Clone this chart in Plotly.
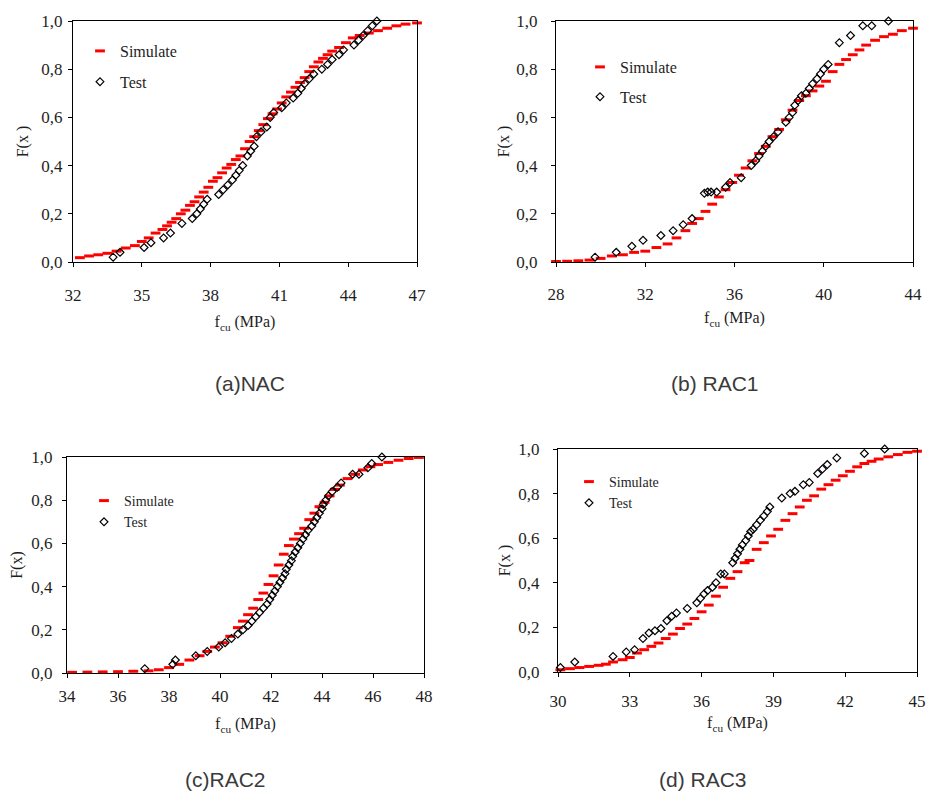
import plotly.graph_objects as go

# ---------------- data ----------------
# (a) NAC
sim_a_x = [32.3, 32.7, 33.1, 33.5, 33.9, 34.3, 34.7, 35.0, 35.3, 35.6, 35.9, 36.1, 36.3, 36.5, 36.7, 36.9,
           37.1, 37.3, 37.5, 37.7, 37.9, 38.1, 38.3, 38.5, 38.7, 38.9, 39.1, 39.3, 39.5, 39.7, 39.9, 40.1,
           40.3, 40.5, 40.7, 40.9, 41.1, 41.3, 41.5, 41.7, 41.9, 42.1, 42.3, 42.5, 42.7, 42.9, 43.1, 43.3,
           43.6, 43.9, 44.2, 44.5, 44.9, 45.3, 45.7, 46.1, 46.5, 47.0]
sim_a_y = [0.018, 0.025, 0.03, 0.036, 0.045, 0.058, 0.068, 0.085, 0.10, 0.12, 0.135, 0.15, 0.165, 0.18, 0.20, 0.215,
           0.235, 0.25, 0.27, 0.29, 0.31, 0.335, 0.35, 0.37, 0.39, 0.405, 0.425, 0.44, 0.47, 0.50, 0.52, 0.545,
           0.57, 0.595, 0.615, 0.635, 0.66, 0.685, 0.705, 0.725, 0.745, 0.765, 0.79, 0.81, 0.83, 0.845, 0.86, 0.875,
           0.89, 0.91, 0.93, 0.94, 0.95, 0.96, 0.97, 0.98, 0.987, 0.992]
test_a_x = [33.75, 34.05, 35.1, 35.4, 35.95, 36.25, 36.75, 37.2, 37.4, 37.55, 37.7, 37.85, 38.35, 38.55, 38.75,
            38.95, 39.1, 39.25, 39.4, 39.6, 39.75, 39.9, 40.0, 40.2, 40.45, 40.6, 40.75, 41.1, 41.3, 41.6, 41.8,
            41.95, 42.1, 42.3, 42.5, 42.85, 43.1, 43.3, 43.6, 43.8, 44.25, 44.45, 44.65, 44.85, 45.05, 45.25]
test_a_y = [0.02, 0.04, 0.06, 0.08, 0.10, 0.12, 0.16, 0.18, 0.20, 0.22, 0.24, 0.26, 0.28, 0.30, 0.32,
            0.34, 0.36, 0.38, 0.40, 0.44, 0.46, 0.48, 0.52, 0.54, 0.56, 0.60, 0.62, 0.64, 0.66, 0.68, 0.70,
            0.72, 0.74, 0.76, 0.78, 0.80, 0.82, 0.84, 0.86, 0.88, 0.90, 0.92, 0.94, 0.96, 0.98, 1.0]

# (b) RAC1
sim_b_x = [28.0, 28.5, 29.0, 29.5, 30.0, 30.5, 31.0, 31.5, 32.0, 32.5, 33.0, 33.4, 33.8, 34.1, 34.4, 34.7,
           35.0, 35.3, 35.6, 35.9, 36.2, 36.5, 36.8, 37.1, 37.4, 37.7, 38.0, 38.3, 38.6, 38.9, 39.2, 39.5,
           39.8, 40.1, 40.4, 40.7, 41.0, 41.3, 41.6, 41.9, 42.3, 42.7, 43.1, 43.5, 44.0]
sim_b_y = [0.002, 0.003, 0.005, 0.008, 0.015, 0.025, 0.03, 0.04, 0.045, 0.06, 0.075, 0.10, 0.13, 0.16, 0.18, 0.21,
           0.24, 0.27, 0.30, 0.33, 0.36, 0.39, 0.42, 0.45, 0.48, 0.52, 0.55, 0.59, 0.63, 0.67, 0.69, 0.71,
           0.73, 0.75, 0.79, 0.82, 0.84, 0.86, 0.88, 0.90, 0.92, 0.935, 0.945, 0.96, 0.97]
test_b_x = [29.75, 30.7, 31.4, 31.9, 32.7, 33.25, 33.7, 34.1, 34.65, 34.8, 34.95, 35.2, 35.6, 35.8, 36.3,
            36.75, 36.95, 37.1, 37.25, 37.4, 37.55, 37.75, 37.95, 38.3, 38.45, 38.6, 38.7, 38.85, 39.0, 39.2,
            39.35, 39.5, 39.7, 39.85, 40.0, 40.2, 40.7, 41.2, 41.75, 42.15, 42.9]
test_b_y = [0.02, 0.04, 0.065, 0.09, 0.11, 0.13, 0.155, 0.18, 0.285, 0.29, 0.29, 0.29, 0.31, 0.33, 0.35,
            0.40, 0.42, 0.44, 0.46, 0.48, 0.50, 0.52, 0.54, 0.58, 0.60, 0.62, 0.65, 0.67, 0.69, 0.70,
            0.72, 0.74, 0.76, 0.78, 0.80, 0.82, 0.91, 0.94, 0.98, 0.98, 1.0]

# (c) RAC2
sim_c_x = [34.2, 34.8, 35.4, 36.0, 36.6, 37.2, 37.6, 38.0, 38.4, 38.8, 39.2, 39.5, 39.8, 40.1, 40.4, 40.7,
           40.9, 41.1, 41.3, 41.5, 41.7, 41.9, 42.1, 42.3, 42.5, 42.7, 42.9, 43.1, 43.3, 43.5, 43.7, 43.9,
           44.1, 44.3, 44.5, 44.7, 45.0, 45.3, 45.6, 45.9, 46.2, 46.6, 47.0, 47.4, 47.8]
sim_c_y = [0.003, 0.004, 0.005, 0.006, 0.008, 0.01, 0.015, 0.025, 0.04, 0.06, 0.08, 0.10, 0.12, 0.14, 0.17, 0.21,
           0.24, 0.27, 0.30, 0.34, 0.37, 0.41, 0.45, 0.50, 0.55, 0.59, 0.62, 0.645, 0.67, 0.71, 0.74, 0.77,
           0.79, 0.82, 0.85, 0.87, 0.90, 0.92, 0.94, 0.955, 0.965, 0.975, 0.985, 0.993, 0.998]
test_c_x = [37.05, 38.15, 38.25, 39.05, 39.5, 39.95, 40.2, 40.45, 40.7, 40.9, 41.1, 41.25, 41.4, 41.55, 41.7,
            41.85, 41.95, 42.05, 42.15, 42.25, 42.35, 42.45, 42.55, 42.6, 42.7, 42.8, 42.85, 42.95, 43.05, 43.15,
            43.25, 43.35, 43.45, 43.6, 43.7, 43.8, 43.9, 44.0, 44.05, 44.15, 44.25, 44.4, 44.6, 44.75, 45.2,
            45.45, 45.8, 45.95, 46.35]
test_c_y = [0.02, 0.04, 0.06, 0.08, 0.10, 0.12, 0.14, 0.16, 0.18, 0.20, 0.22, 0.24, 0.26, 0.28, 0.30,
            0.32, 0.34, 0.36, 0.38, 0.40, 0.42, 0.44, 0.46, 0.48, 0.50, 0.52, 0.54, 0.56, 0.58, 0.60,
            0.62, 0.64, 0.66, 0.68, 0.70, 0.72, 0.74, 0.76, 0.78, 0.80, 0.82, 0.84, 0.86, 0.88, 0.92,
            0.92, 0.95, 0.97, 1.0]

# (d) RAC3
sim_d_x = [30.1, 30.5, 30.9, 31.3, 31.7, 32.0, 32.3, 32.7, 33.0, 33.3, 33.6, 33.9, 34.2, 34.5, 34.8, 35.1,
           35.4, 35.7, 36.0, 36.3, 36.6, 36.9, 37.2, 37.5, 37.8, 38.0, 38.3, 38.6, 38.9, 39.2, 39.5, 39.8,
           40.1, 40.4, 40.7, 41.0, 41.3, 41.6, 41.9, 42.2, 42.5, 42.8, 43.1, 43.4, 43.8, 44.2, 44.6, 45.0]
sim_d_y = [0.01, 0.015, 0.02, 0.025, 0.03, 0.035, 0.045, 0.055, 0.065, 0.085, 0.10, 0.115, 0.13, 0.15, 0.17, 0.195,
           0.215, 0.24, 0.27, 0.30, 0.34, 0.38, 0.42, 0.45, 0.49, 0.50, 0.55, 0.58, 0.61, 0.64, 0.68, 0.71,
           0.74, 0.77, 0.79, 0.82, 0.84, 0.86, 0.88, 0.90, 0.92, 0.935, 0.945, 0.955, 0.965, 0.975, 0.985, 0.99]
test_d_x = [30.1, 30.7, 32.3, 32.85, 33.2, 33.55, 33.8, 34.05, 34.3, 34.55, 34.75, 34.95, 35.4, 35.8, 35.95,
            36.1, 36.25, 36.45, 36.6, 36.8, 36.95, 37.3, 37.4, 37.5, 37.6, 37.7, 37.85, 37.95, 38.05, 38.15,
            38.3, 38.45, 38.6, 38.75, 38.85, 39.35, 39.7, 39.9, 40.25, 40.5, 40.85, 41.05, 41.25, 41.65, 42.8, 43.65]
test_d_y = [0.02, 0.045, 0.07, 0.09, 0.10, 0.15, 0.175, 0.185, 0.195, 0.23, 0.25, 0.265, 0.285, 0.31, 0.33,
            0.35, 0.365, 0.38, 0.40, 0.44, 0.44, 0.49, 0.51, 0.53, 0.55, 0.57, 0.59, 0.61, 0.63, 0.64,
            0.66, 0.68, 0.70, 0.72, 0.74, 0.78, 0.80, 0.81, 0.84, 0.85, 0.89, 0.91, 0.93, 0.96, 0.98, 1.0]

y_tickvals = [0, 0.2, 0.4, 0.6, 0.8, 1.0]
y_ticktext = ["0,0", "0,2", "0,4", "0,6", "0,8", "1,0"]
x_ticks_a = [32, 35, 38, 41, 44, 47]
x_ticks_b = [28, 32, 36, 40, 44]
x_ticks_c = [34, 36, 38, 40, 42, 44, 46, 48]
x_ticks_d = [30, 33, 36, 39, 42, 45]
captions = ["(a)NAC", "(b) RAC1", "(c)RAC2", "(d) RAC3"]
y_titles = ["F(x )", "F(x )", "F(x)", "F(x )"]

# ---------------- figure ----------------
W, H = 926, 793
SERIF = "Liberation Serif, Times New Roman, serif"
TXT = "#1e1e1e"

panels = [
    dict(sx=sim_a_x, sy=sim_a_y, tx=test_a_x, ty=test_a_y, ticks=x_ticks_a,
         box=(73, 417, 21, 262), xstand=13, xtitle=12, ystand=2, ytitle=8,
         leg=(80, 34), gap=7, lfont=16),
    dict(sx=sim_b_x, sy=sim_b_y, tx=test_b_x, ty=test_b_y, ticks=x_ticks_b,
         box=(556, 913, 21, 262), xstand=12, xtitle=9, ystand=10, ytitle=2,
         leg=(580, 50), gap=6, lfont=16),
    dict(sx=sim_c_x, sy=sim_c_y, tx=test_c_x, ty=test_c_y, ticks=x_ticks_c,
         box=(67, 424, 457, 673), xstand=3, xtitle=13, ystand=6, ytitle=4,
         leg=(84, 485), gap=0, lfont=14),
    dict(sx=sim_d_x, sy=sim_d_y, tx=test_d_x, ty=test_d_y, ticks=x_ticks_d,
         box=(558, 917, 449, 672), xstand=9, xtitle=7, ystand=10, ytitle=3,
         leg=(569, 466), gap=0, lfont=14),
]

fig = go.Figure()
layout = dict(width=W, height=H, margin=dict(l=0, r=0, t=0, b=0, autoexpand=False),
              paper_bgcolor="white", plot_bgcolor="white", showlegend=True)

for i, p in enumerate(panels):
    n = i + 1
    xa = "x" if n == 1 else f"x{n}"
    ya = "y" if n == 1 else f"y{n}"
    lg = "legend" if n == 1 else f"legend{n}"
    fig.add_trace(go.Scatter(
        x=p["sx"], y=p["sy"], mode="markers", name="Simulate", xaxis=xa, yaxis=ya,
        legend=lg, legendgroup=f"s{n}", cliponaxis=False,
        marker=dict(symbol="line-ew-open", size=7, color="#ff0000", line=dict(width=3, color="#ff0000"))))
    fig.add_trace(go.Scatter(
        x=p["tx"], y=p["ty"], mode="markers", name="Test", xaxis=xa, yaxis=ya,
        legend=lg, legendgroup=f"t{n}", cliponaxis=False,
        marker=dict(symbol="diamond-open", size=6, color="black", line=dict(width=1.2, color="black"))))

    l, r, t, b = p["box"]
    xkey = "xaxis" if n == 1 else f"xaxis{n}"
    ykey = "yaxis" if n == 1 else f"yaxis{n}"
    layout[xkey] = dict(
        domain=[l / W, r / W], anchor=ya, range=[p["ticks"][0], p["ticks"][-1]],
        tickvals=p["ticks"], ticks="outside", ticklen=4, tickcolor="black",
        showline=True, linecolor="black", linewidth=1.3, mirror=True, automargin=False,
        showgrid=False, zeroline=False, ticklabelstandoff=p["xstand"],
        tickfont=dict(family=SERIF, size=17, color=TXT),
        title=dict(text="f<sub>cu</sub> (MPa)", standoff=p["xtitle"],
                   font=dict(family=SERIF, size=16, color=TXT)))
    layout[ykey] = dict(
        domain=[1 - b / H, 1 - t / H], anchor=xa, range=[0, 1],
        tickvals=y_tickvals, ticktext=y_ticktext, ticks="outside", ticklen=4, tickcolor="black",
        showline=True, linecolor="black", linewidth=1.3, mirror=True, automargin=False,
        showgrid=False, zeroline=False, ticklabelstandoff=p["ystand"],
        tickfont=dict(family=SERIF, size=17, color=TXT),
        title=dict(text=y_titles[i], standoff=p["ytitle"],
                   font=dict(family=SERIF, size=16, color=TXT)))
    lx, ly = p["leg"]
    layout[lg] = dict(x=lx / W, y=1 - ly / H, xanchor="left", yanchor="top",
                      bgcolor="rgba(0,0,0,0)", borderwidth=0, itemwidth=30,
                      tracegroupgap=p["gap"], font=dict(family=SERIF, size=p["lfont"], color=TXT))

fig.update_layout(**layout)

cap_pos = [(250, 383), (715, 383), (225, 779), (703, 779)]
for txt, (cx, cy) in zip(captions, cap_pos):
    fig.add_annotation(text=txt, x=cx / W, y=1 - cy / H, xref="paper", yref="paper",
                       showarrow=False, xanchor="center", yanchor="middle",
                       font=dict(family="Liberation Sans, Arial, sans-serif", size=21, color="#3a3a3a"))

fig.write_html("out.html", config={"displayModeBar": False},
               post_script="document.body.style.margin='0';document.body.style.overflow='hidden';")
